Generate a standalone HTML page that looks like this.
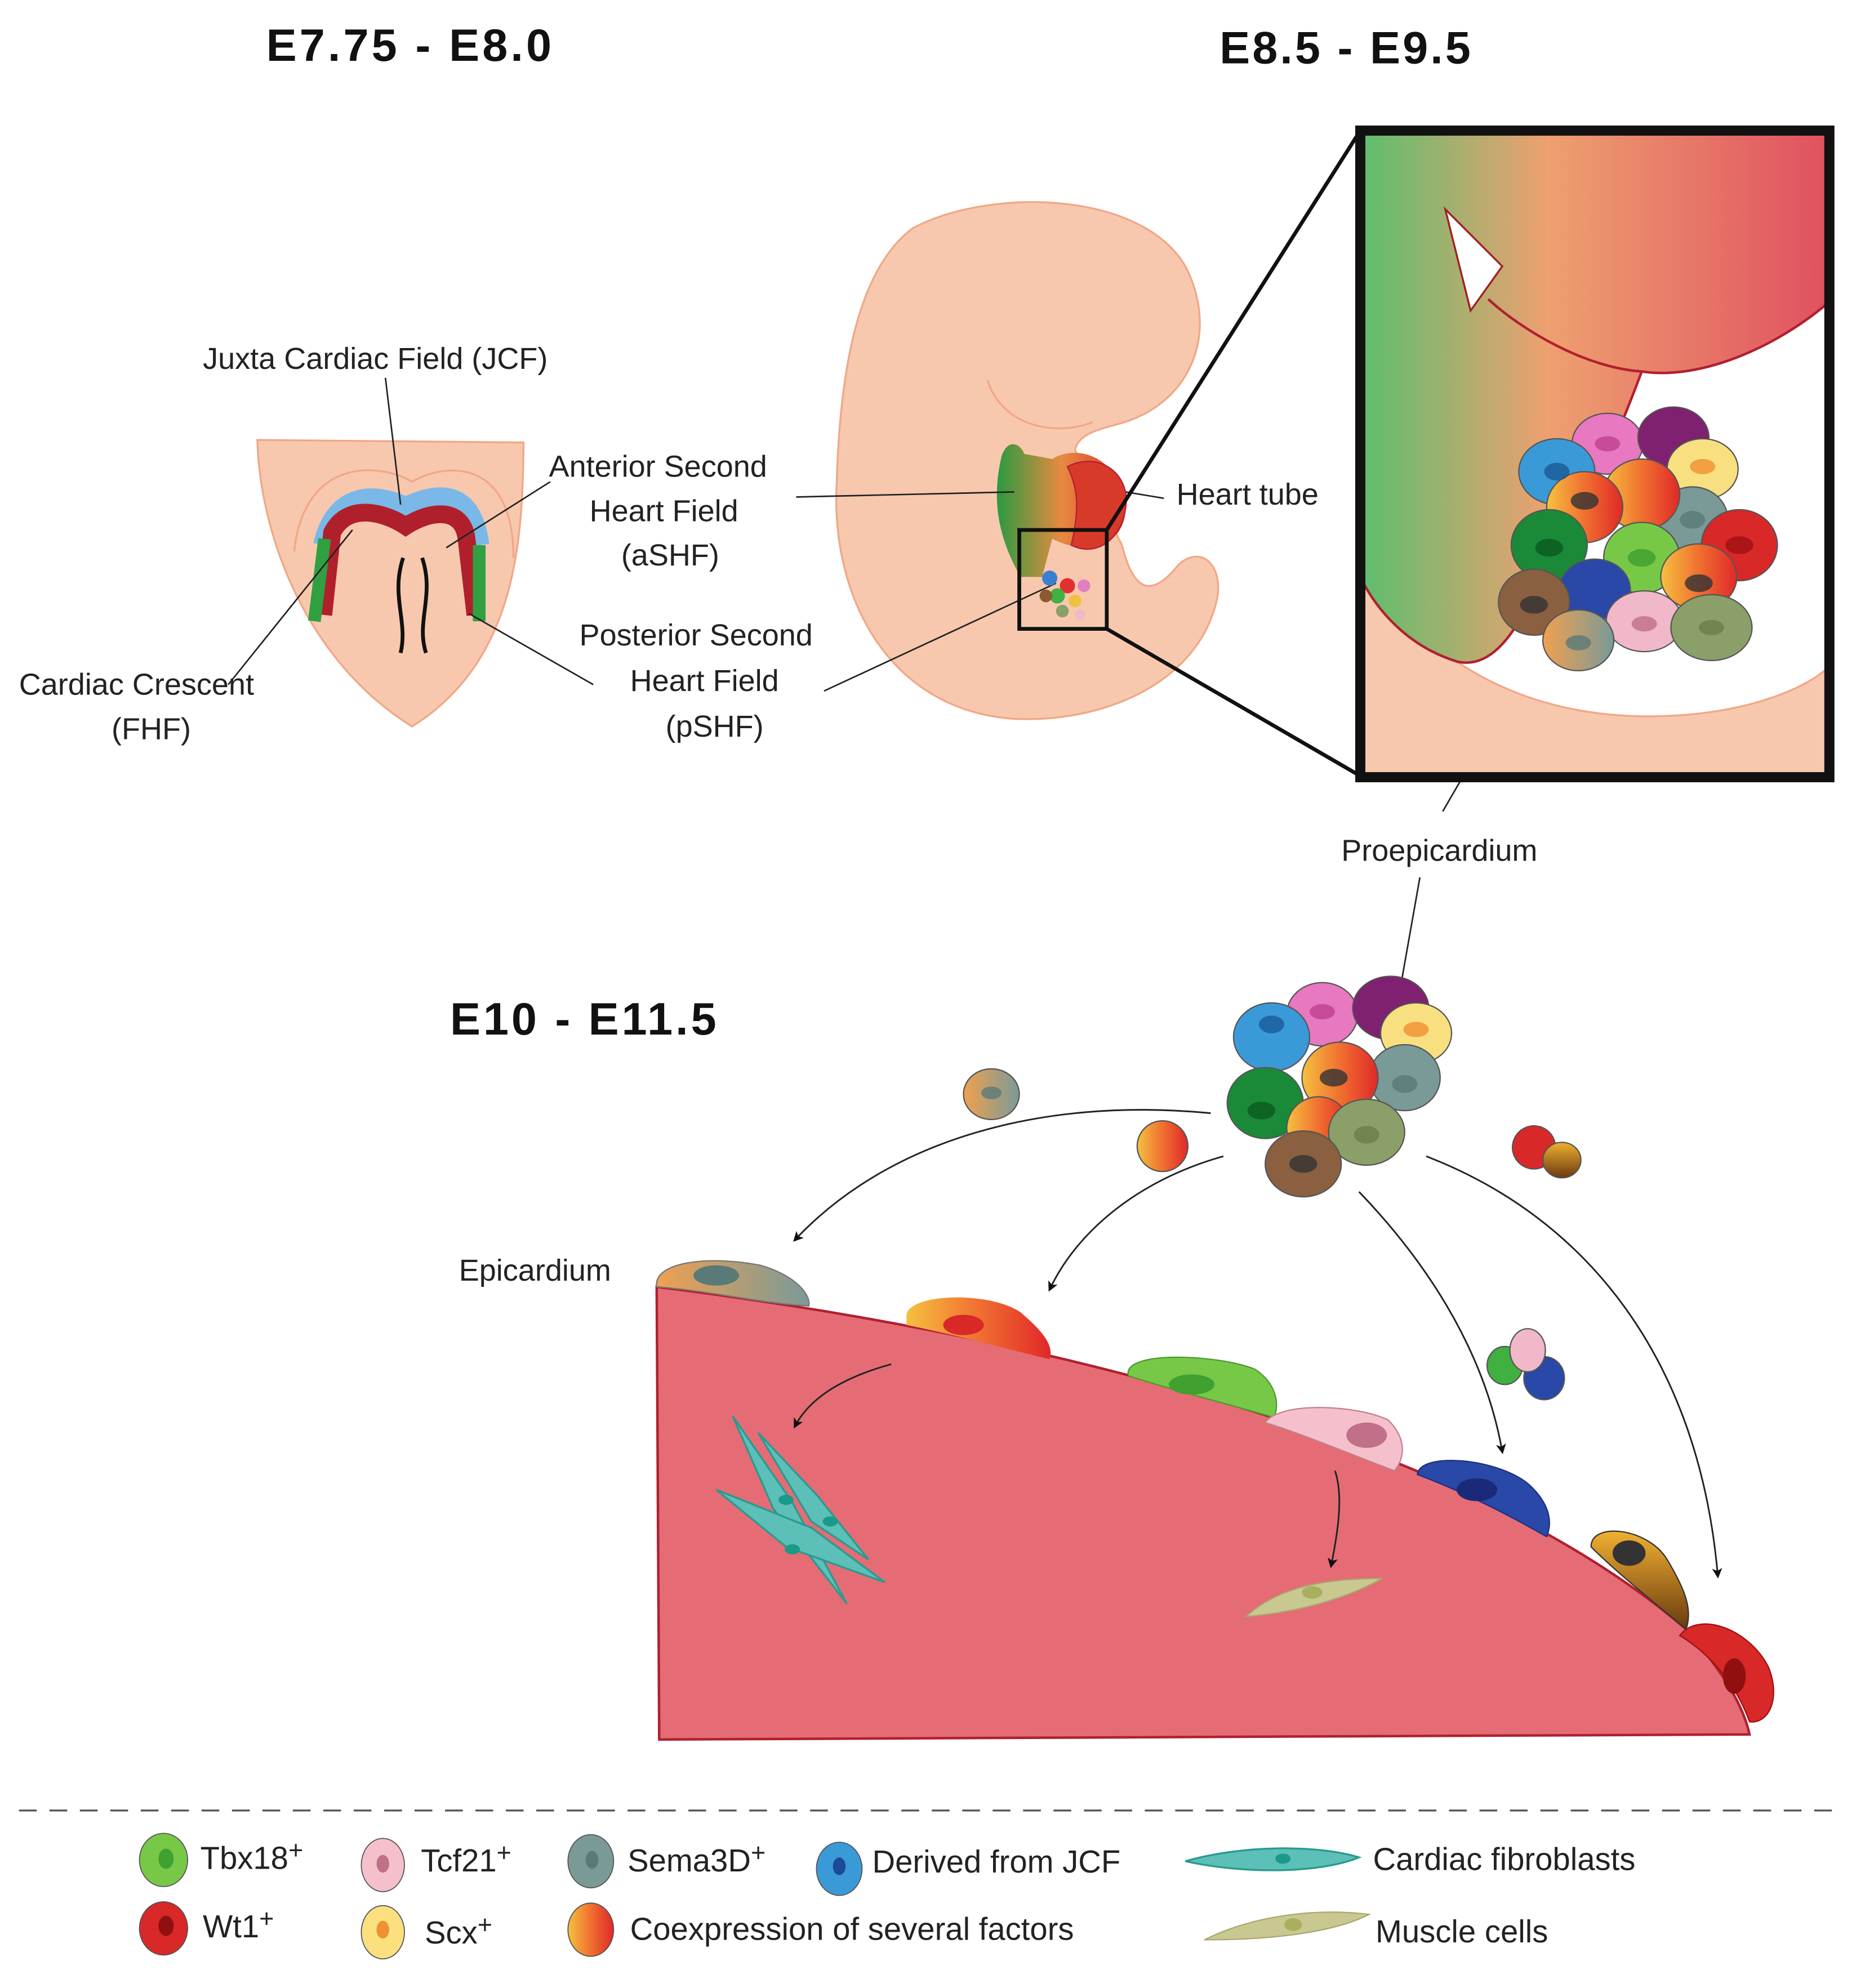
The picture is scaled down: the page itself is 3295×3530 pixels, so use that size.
<!DOCTYPE html>
<html><head><meta charset="utf-8"><style>
html,body{margin:0;padding:0;background:#fff}
svg{display:block}
text{font-family:"Liberation Sans",sans-serif}
</style></head><body>
<svg width="3295" height="3530" viewBox="0 0 1464 1568" preserveAspectRatio="none" xmlns="http://www.w3.org/2000/svg">
<defs>
<linearGradient id="zg" x1="0" x2="1"><stop offset="0" stop-color="#5cbf6e"/><stop offset="0.4" stop-color="#eea070"/><stop offset="1" stop-color="#e05060"/></linearGradient>
<linearGradient id="co" x1="0" x2="1"><stop offset="0" stop-color="#f6c040"/><stop offset="0.5" stop-color="#f07030"/><stop offset="1" stop-color="#e02828"/></linearGradient>
<linearGradient id="ht" x1="0" x2="1"><stop offset="0" stop-color="#2a9a40"/><stop offset="0.5" stop-color="#e88a40"/><stop offset="1" stop-color="#d83030"/></linearGradient>
<linearGradient id="br" x1="0" y1="0" x2="0" y2="1"><stop offset="0" stop-color="#f0b030"/><stop offset="1" stop-color="#6a3a10"/></linearGradient>
<linearGradient id="gs" x1="0" x2="1"><stop offset="0" stop-color="#f0a050"/><stop offset="1" stop-color="#7a9a98"/></linearGradient>
<marker id="ar" markerWidth="8" markerHeight="8" refX="6" refY="4" orient="auto" markerUnits="userSpaceOnUse"><path d="M0,0 L8,4 L0,8 L2,4z" fill="#111"/></marker>
</defs>
<g font-weight="bold" font-size="36" fill="#111">
<text x="210" y="48" textLength="225">E7.75 - E8.0</text>
<text x="962" y="50" textLength="198">E8.5 - E9.5</text>
<text x="355" y="816" textLength="210">E10 - E11.5</text>
</g>
<!-- left embryo -->
<path d="M203,347 L413,349 C412,420 410,520 325,573 C240,520 205,420 203,347z" fill="#f8c8ae" stroke="#f0a888" stroke-width="1.5"/>
<path d="M232,435 C240,360 300,365 325,380 C350,365 405,360 405,440" fill="none" stroke="#f0a888" stroke-width="1.5"/>
<path d="M255,430 C265,385 300,390 320,400 C345,388 372,385 378,430" fill="none" stroke="#7ab8e8" stroke-width="16"/>
<path d="M255,485 L262,420 C275,395 305,405 320,415 C340,402 365,400 368,425 L375,485" fill="none" stroke="#b0202c" stroke-width="14"/>
<path d="M248,490 L256,425 M378,430 L378,490" stroke="#30a040" stroke-width="10" fill="none"/>
<path d="M318,440 C308,470 322,490 316,515 M333,440 C343,470 328,490 336,515" stroke="#111" stroke-width="3" fill="none"/>
<g fill="#222" font-size="24">
<text x="160" y="291">Juxta Cardiac Field (JCF)</text>
<text x="433" y="376">Anterior Second</text><text x="465" y="411">Heart Field</text><text x="490" y="446">(aSHF)</text>
<text x="15" y="548">Cardiac Crescent</text><text x="88" y="583">(FHF)</text>
<text x="457" y="509">Posterior Second</text><text x="497" y="545">Heart Field</text><text x="525" y="581">(pSHF)</text>
<text x="928" y="398">Heart tube</text>
<text x="1058" y="679">Proepicardium</text>
<text x="362" y="1010">Epicardium</text>
<text x="1190" y="1356">Myocardium</text>
<text x="665" y="1125" font-style="italic" font-size="20">¿?</text>
<text x="1028" y="1213" font-style="italic" font-size="20">¿?</text>
</g>
<g stroke="#222" stroke-width="1.2" fill="none">
<line x1="304" y1="298" x2="316" y2="398"/>
<line x1="434" y1="380" x2="352" y2="432"/>
<line x1="180" y1="540" x2="278" y2="418"/>
<line x1="468" y1="540" x2="370" y2="484"/>
<line x1="918" y1="393" x2="870" y2="385"/>
<line x1="1138" y1="640" x2="1225" y2="490"/>
<line x1="1120" y1="692" x2="1100" y2="805"/>
</g>
<!-- middle embryo -->
<path d="M720,180 C780,148 900,150 935,210 C962,262 940,320 880,335 C860,340 850,345 848,355 L885,430 C895,470 910,470 930,445 C950,428 968,450 958,480 C940,540 870,570 800,567 C700,560 655,470 660,380 C663,280 680,210 720,180z" fill="#f8c8ae" stroke="#f0a888" stroke-width="1.5"/>
<path d="M779,300 C790,335 830,345 862,333" fill="none" stroke="#f0a888" stroke-width="1.5"/>
<path d="M790,360 C795,345 805,350 808,358 L830,362 C850,350 880,360 888,395 C890,430 860,440 830,425 L822,455 L805,455 C785,420 783,390 790,360z" fill="url(#ht)"/>
<path d="M842,368 C868,355 892,375 888,400 C885,425 865,440 845,430 C852,400 850,385 842,368z" fill="#d83a2a" stroke="#b02030"/>
<g stroke="#222" stroke-width="1.2" fill="none">
<line x1="628" y1="392" x2="800" y2="388"/>
<line x1="650" y1="545" x2="833" y2="460"/>
</g>
<g><circle cx="828" cy="456" r="6" fill="#3a80d0"/><circle cx="842" cy="462" r="6" fill="#e03030"/><circle cx="834" cy="470" r="6" fill="#40b040"/><circle cx="848" cy="474" r="5" fill="#f0c040"/><circle cx="825" cy="470" r="5" fill="#8a5a30"/><circle cx="855" cy="462" r="5" fill="#e080c0"/><circle cx="838" cy="482" r="5" fill="#8aa068"/><circle cx="852" cy="485" r="4" fill="#f0b8c8"/></g>
<rect x="804" y="418" width="69" height="78" fill="none" stroke="#111" stroke-width="3"/>
<line x1="873" y1="418" x2="1073" y2="103" stroke="#111" stroke-width="3"/>
<line x1="873" y1="496" x2="1073" y2="612" stroke="#111" stroke-width="3"/>
<!-- zoom box -->
<rect x="1073" y="103" width="370" height="510" fill="#fff"/>
<path d="M1073,440 C1120,520 1200,565 1300,565 C1380,565 1430,540 1443,525 V613 H1073z" fill="#f8c8ae" stroke="#f0a888" stroke-width="1.5"/>
<path d="M1073,103 H1443 V238 C1400,275 1340,300 1295,293 C1270,360 1230,450 1195,495 C1180,518 1165,525 1150,522 C1110,510 1085,480 1073,455z" fill="url(#zg)"/>
<path d="M1443,238 C1400,275 1340,300 1295,293 C1250,290 1200,260 1174,236" fill="none" stroke="#b02030" stroke-width="2"/>
<path d="M1295,293 C1270,360 1230,450 1195,495 C1180,518 1165,525 1150,522 C1110,510 1085,480 1073,455" fill="none" stroke="#b02030" stroke-width="2"/>
<path d="M1140,165 L1185,210 L1160,245z" fill="#fff" stroke="#a02020" stroke-width="1.5"/>
<g stroke="#555" stroke-width="1">
<ellipse cx="1268" cy="350" rx="28" ry="24" fill="#e878c0"/><ellipse cx="1320" cy="345" rx="28" ry="24" fill="#802070"/>
<ellipse cx="1343" cy="370" rx="28" ry="24" fill="#f8e080"/><ellipse cx="1228" cy="372" rx="30" ry="26" fill="#3a9ad8"/>
<ellipse cx="1335" cy="410" rx="28" ry="26" fill="#7a9a98"/><ellipse cx="1295" cy="390" rx="30" ry="28" fill="url(#co)"/>
<ellipse cx="1250" cy="400" rx="30" ry="28" fill="url(#co)"/><ellipse cx="1372" cy="430" rx="30" ry="28" fill="#d82828"/>
<ellipse cx="1222" cy="430" rx="30" ry="28" fill="#1a8a38"/><ellipse cx="1295" cy="440" rx="30" ry="28" fill="#78c848"/>
<ellipse cx="1340" cy="455" rx="30" ry="26" fill="url(#co)"/><ellipse cx="1258" cy="465" rx="28" ry="24" fill="#2a48a8"/>
<ellipse cx="1210" cy="475" rx="28" ry="26" fill="#8a6040"/><ellipse cx="1297" cy="490" rx="30" ry="24" fill="#f0b8c8"/>
<ellipse cx="1350" cy="495" rx="32" ry="26" fill="#8aa068"/><ellipse cx="1245" cy="505" rx="28" ry="24" fill="url(#gs)"/>
</g>
<g fill="#333" opacity="0.8"><ellipse cx="1268" cy="350" rx="10" ry="6" fill="#c04090"/><ellipse cx="1343" cy="368" rx="10" ry="6" fill="#f09030"/><ellipse cx="1228" cy="372" rx="10" ry="7" fill="#1a5a98"/><ellipse cx="1250" cy="395" rx="11" ry="7"/><ellipse cx="1335" cy="410" rx="10" ry="7" fill="#5a7a78"/><ellipse cx="1222" cy="432" rx="11" ry="7" fill="#0a5a20"/><ellipse cx="1295" cy="440" rx="11" ry="7" fill="#40a030"/><ellipse cx="1372" cy="430" rx="11" ry="7" fill="#a01010"/><ellipse cx="1340" cy="460" rx="11" ry="7"/><ellipse cx="1210" cy="477" rx="11" ry="7"/><ellipse cx="1297" cy="492" rx="10" ry="6" fill="#c07088"/><ellipse cx="1350" cy="495" rx="10" ry="6" fill="#6a8048"/><ellipse cx="1245" cy="507" rx="10" ry="6" fill="#5a7a78"/></g>
<rect x="1073" y="103" width="370" height="510" fill="none" stroke="#111" stroke-width="8"/>
<!-- proepicardium cluster bottom -->
<g stroke="#555" stroke-width="1">
<ellipse cx="1043" cy="800" rx="28" ry="25" fill="#e878c0"/><ellipse cx="1097" cy="795" rx="30" ry="25" fill="#802070"/>
<ellipse cx="1117" cy="815" rx="28" ry="24" fill="#f8e080"/><ellipse cx="1003" cy="818" rx="30" ry="27" fill="#3a9ad8"/>
<ellipse cx="1108" cy="850" rx="28" ry="26" fill="#7a9a98"/><ellipse cx="1057" cy="850" rx="30" ry="28" fill="url(#co)"/>
<ellipse cx="998" cy="870" rx="30" ry="28" fill="#1a8a38"/><ellipse cx="1040" cy="890" rx="25" ry="25" fill="url(#co)"/>
<ellipse cx="1078" cy="893" rx="30" ry="26" fill="#8aa068"/><ellipse cx="1028" cy="918" rx="30" ry="26" fill="#8a6040"/>
<ellipse cx="782" cy="863" rx="22" ry="20" fill="url(#gs)"/><ellipse cx="917" cy="904" rx="20" ry="20" fill="url(#co)"/>
<ellipse cx="1210" cy="905" rx="17" ry="17" fill="#d82828"/><ellipse cx="1232" cy="915" rx="15" ry="14" fill="url(#br)"/>
<ellipse cx="1187" cy="1077" rx="14" ry="15" fill="#40b040"/><ellipse cx="1218" cy="1087" rx="16" ry="17" fill="#2a48a8"/><ellipse cx="1205" cy="1065" rx="14" ry="17" fill="#f0b8c8"/>
</g>
<g fill="#333" opacity="0.8"><ellipse cx="1043" cy="798" rx="10" ry="6" fill="#c04090"/><ellipse cx="1117" cy="812" rx="10" ry="6" fill="#f09030"/><ellipse cx="1003" cy="808" rx="10" ry="7" fill="#1a5a98"/><ellipse cx="1052" cy="850" rx="11" ry="7"/><ellipse cx="1108" cy="855" rx="10" ry="7" fill="#5a7a78"/><ellipse cx="995" cy="876" rx="11" ry="7" fill="#0a5a20"/><ellipse cx="1078" cy="895" rx="10" ry="7" fill="#6a8048"/><ellipse cx="1028" cy="918" rx="11" ry="7"/><ellipse cx="782" cy="862" rx="8" ry="5" fill="#5a7a78"/></g>
<!-- myocardium -->
<path d="M518,1015 C800,1050 1150,1130 1330,1285 C1360,1320 1375,1345 1380,1368 L520,1372z" fill="#e56c74" stroke="#b02030" stroke-width="2"/>
<!-- epicardial cells -->
<path d="M518,1015 C515,995 560,990 600,998 C625,1005 640,1020 638,1030 C600,1028 560,1018 518,1015z" fill="url(#gs)" stroke="#777"/>
<ellipse cx="565" cy="1006" rx="18" ry="8" fill="#5a7a78"/>
<path d="M715,1038 C715,1020 780,1018 805,1035 C820,1048 832,1060 828,1072 C790,1063 750,1052 715,1045z" fill="url(#co)"/>
<ellipse cx="760" cy="1045" rx="16" ry="8" fill="#d82828"/>
<path d="M890,1085 C885,1065 960,1068 990,1080 C1005,1090 1010,1105 1005,1118 C960,1105 920,1095 890,1085z" fill="#78c848" stroke="#4a9a2a"/>
<ellipse cx="940" cy="1092" rx="18" ry="8" fill="#40a030"/>
<path d="M998,1122 C1010,1105 1070,1108 1095,1120 C1110,1135 1108,1150 1100,1160 C1060,1145 1030,1132 998,1122z" fill="#f5c0cc" stroke="#c08090"/>
<ellipse cx="1078" cy="1132" rx="16" ry="10" fill="#c07088"/>
<path d="M1118,1163 C1120,1145 1180,1150 1205,1170 C1222,1185 1225,1200 1220,1212 C1185,1192 1150,1175 1118,1163z" fill="#2a48a8" stroke="#1a3080"/>
<ellipse cx="1165" cy="1175" rx="16" ry="9" fill="#1a2a78"/>
<path d="M1255,1220 C1255,1200 1300,1205 1315,1230 C1330,1255 1335,1270 1330,1285 C1300,1260 1275,1240 1255,1220z" fill="url(#br)" stroke="#333"/>
<ellipse cx="1285" cy="1225" rx="13" ry="10" fill="#333"/>
<path d="M1325,1290 C1340,1270 1380,1285 1395,1315 C1405,1340 1395,1360 1380,1358 C1370,1330 1350,1305 1325,1290z" fill="#d82828" stroke="#a01010"/>
<ellipse cx="1368" cy="1322" rx="9" ry="14" fill="#901010"/>
<!-- fibroblasts -->
<g fill="#5cc0b8" stroke="#2a9a90" stroke-width="1.5">
<path d="M578,1117 L625,1185 L668,1265 L610,1190z"/>
<path d="M565,1175 L640,1205 L698,1248 L620,1220z"/>
<path d="M598,1130 L645,1180 L685,1230 L640,1200z"/>
</g>
<ellipse cx="620" cy="1183" rx="6" ry="4" fill="#1a9a88"/><ellipse cx="655" cy="1200" rx="6" ry="4" fill="#1a9a88"/><ellipse cx="625" cy="1222" rx="6" ry="4" fill="#1a9a88"/>
<path d="M983,1275 C1010,1250 1050,1245 1090,1245 C1060,1262 1020,1272 983,1275z" fill="#c8c890" stroke="#a8a870"/>
<ellipse cx="1035" cy="1256" rx="8" ry="5" fill="#a8b060"/>
<!-- arrows -->
<g stroke="#222" stroke-width="1.3" fill="none" marker-end="url(#ar)">
<path d="M955,878 C820,865 700,900 627,978"/>
<path d="M965,912 C900,930 850,970 828,1017"/>
<path d="M1072,940 C1120,990 1170,1060 1185,1145"/>
<path d="M1125,912 C1250,960 1340,1070 1355,1243"/>
<path d="M703,1076 C670,1085 640,1100 627,1125"/>
<path d="M1053,1160 C1060,1180 1055,1210 1050,1235"/>
</g>
<!-- legend -->
<line x1="15" y1="1428" x2="1445" y2="1428" stroke="#555" stroke-width="1.5" stroke-dasharray="14,10"/>
<g stroke="#555" stroke-width="0.8">
<ellipse cx="129" cy="1467" rx="19" ry="21" fill="#78c848"/><ellipse cx="129" cy="1521" rx="19" ry="21" fill="#d82828"/>
<ellipse cx="302" cy="1471" rx="17" ry="21" fill="#f5c0cc"/><ellipse cx="302" cy="1524" rx="17" ry="21" fill="#fce080"/>
<ellipse cx="466" cy="1468" rx="18" ry="21" fill="#7a9a98"/><ellipse cx="466" cy="1522" rx="18" ry="21" fill="url(#co)"/>
<ellipse cx="662" cy="1474" rx="18" ry="21" fill="#3a9ad8"/>
</g>
<g><ellipse cx="131" cy="1466" rx="6" ry="8" fill="#40a030"/><ellipse cx="131" cy="1519" rx="6" ry="8" fill="#901010"/><ellipse cx="302" cy="1470" rx="5" ry="7" fill="#c07088"/><ellipse cx="302" cy="1522" rx="5" ry="7" fill="#f09030"/><ellipse cx="467" cy="1467" rx="5" ry="7" fill="#5a7a78"/><ellipse cx="662" cy="1472" rx="5" ry="7" fill="#1a4a98"/></g>
<path d="M935,1468 C980,1455 1040,1455 1072,1465 C1040,1478 980,1478 935,1468z" fill="#5cc0b8" stroke="#2a9a90" stroke-width="1.5"/>
<ellipse cx="1012" cy="1466" rx="6" ry="4" fill="#1a9a88"/>
<path d="M950,1530 C990,1510 1040,1505 1080,1510 C1050,1525 1000,1530 950,1530z" fill="#c8c890" stroke="#a8a870"/>
<ellipse cx="1020" cy="1518" rx="7" ry="5" fill="#a8b060"/>
<g fill="#222" font-size="25">
<text x="158" y="1474">Tbx18<tspan font-size="20" dy="-8">+</tspan></text>
<text x="160" y="1528">Wt1<tspan font-size="20" dy="-8">+</tspan></text>
<text x="332" y="1476">Tcf21<tspan font-size="20" dy="-8">+</tspan></text>
<text x="335" y="1533">Scx<tspan font-size="20" dy="-8">+</tspan></text>
<text x="495" y="1476">Sema3D<tspan font-size="20" dy="-8">+</tspan></text>
<text x="497" y="1530">Coexpression of several factors</text>
<text x="688" y="1477">Derived from JCF</text>
<text x="1083" y="1475">Cardiac fibroblasts</text>
<text x="1085" y="1532">Muscle cells</text>
</g>
</svg>
</body></html>
